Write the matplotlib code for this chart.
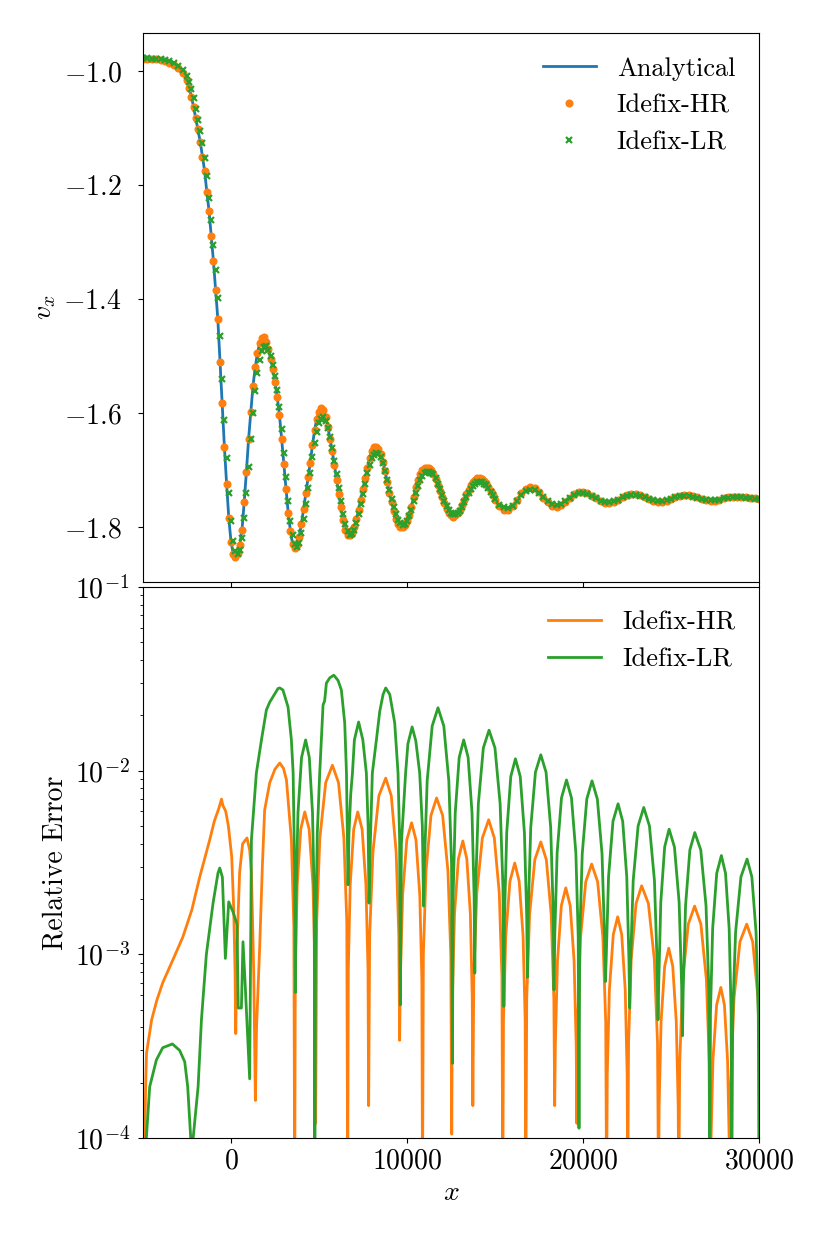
"""
Velocity profile vs analytical solution, and relative error of the two runs
"""

import matplotlib

matplotlib.use("Agg")

import matplotlib.pyplot as plt
import numpy as np

plt.rcParams.update(
    {
        "font.family": "serif",
        "font.serif": ["cmr10"],
        "mathtext.fontset": "cm",
        "axes.formatter.use_mathtext": True,
        "font.size": 20,
    }
)

# ---- top panel: v_x on a shared grid (finer where the profile oscillates strongly) ----
x_top = np.concatenate(
    [np.arange(-5000, -2500, 250), np.arange(-2500, 15000, 125), np.arange(15000, 30001, 250)]
)

v_analytical = [
    # -5000 .. -2750
    -0.978, -0.978, -0.979, -0.979, -0.980, -0.982, -0.985, -0.989, -0.995, -1.004,
    # -2500 .. 875
    -1.015, -1.029, -1.045, -1.063, -1.083, -1.102, -1.124, -1.150, -1.175, -1.212,
    -1.245, -1.290, -1.333, -1.385, -1.435, -1.510, -1.583, -1.660, -1.725, -1.785,
    -1.826, -1.847, -1.853, -1.846, -1.832, -1.805, -1.756, -1.703,
    # 1000 .. 14875
    -1.645, -1.598, -1.552, -1.520, -1.495, -1.478, -1.468, -1.467, -1.475, -1.488, -1.505, -1.523,
    -1.545, -1.572, -1.603, -1.645, -1.690, -1.733, -1.775, -1.807, -1.830, -1.837, -1.832, -1.818,
    -1.795, -1.768, -1.740, -1.713, -1.688, -1.657, -1.630, -1.610, -1.598, -1.592, -1.595, -1.607,
    -1.625, -1.645, -1.667, -1.692, -1.718, -1.742, -1.766, -1.788, -1.805, -1.814, -1.815, -1.811,
    -1.800, -1.787, -1.770, -1.752, -1.733, -1.714, -1.696, -1.680, -1.667, -1.659, -1.660, -1.663,
    -1.672, -1.686, -1.702, -1.721, -1.740, -1.757, -1.772, -1.786, -1.795, -1.800, -1.800, -1.797,
    -1.790, -1.779, -1.765, -1.748, -1.730, -1.718, -1.708, -1.701, -1.697, -1.696, -1.697, -1.701,
    -1.707, -1.716, -1.726, -1.737, -1.748, -1.759, -1.768, -1.776, -1.780, -1.782, -1.780, -1.776,
    -1.770, -1.762, -1.752, -1.743, -1.735, -1.727, -1.721, -1.717, -1.715, -1.715, -1.716, -1.719,
    -1.723, -1.730, -1.737, -1.744,
    # 15000 .. 30000
    -1.752, -1.764, -1.770, -1.770, -1.764, -1.753, -1.741, -1.733, -1.730, -1.732, -1.739, -1.749,
    -1.757, -1.763, -1.765, -1.762, -1.756, -1.749, -1.742, -1.738, -1.738, -1.740, -1.745, -1.750,
    -1.755, -1.758, -1.758, -1.757, -1.753, -1.748, -1.744, -1.742, -1.742, -1.744, -1.747, -1.751,
    -1.754, -1.756, -1.756, -1.754, -1.751, -1.748, -1.745, -1.744, -1.744, -1.745, -1.748, -1.751,
    -1.753, -1.754, -1.754, -1.752, -1.750, -1.748, -1.747, -1.747, -1.747, -1.748, -1.749, -1.750,
    -1.751,
]

# HR points lie on the analytical curve at this scale
v_hr = list(v_analytical)

v_lr = [
    # -5000 .. -2750
    -0.977, -0.977, -0.978, -0.978, -0.979, -0.980, -0.982, -0.986, -0.991, -0.998,
    # -2500 .. 875
    -1.008, -1.019, -1.032, -1.048, -1.066, -1.085, -1.105, -1.127, -1.152, -1.185,
    -1.222, -1.262, -1.305, -1.350, -1.398, -1.465, -1.540, -1.612, -1.680, -1.740,
    -1.790, -1.825, -1.843, -1.848, -1.840, -1.820, -1.785, -1.740,
    # 1000 .. 14875
    -1.695, -1.645, -1.600, -1.562, -1.530, -1.508, -1.492, -1.485, -1.483, -1.489, -1.500, -1.516,
    -1.535, -1.560, -1.590, -1.628, -1.670, -1.713, -1.755, -1.790, -1.815, -1.830, -1.835, -1.828,
    -1.810, -1.786, -1.760, -1.732, -1.705, -1.678, -1.653, -1.633, -1.618, -1.610, -1.608, -1.614,
    -1.627, -1.643, -1.662, -1.684, -1.708, -1.732, -1.755, -1.777, -1.795, -1.808, -1.814, -1.813,
    -1.805, -1.793, -1.778, -1.760, -1.742, -1.724, -1.706, -1.691, -1.680, -1.673, -1.670, -1.672,
    -1.678, -1.688, -1.702, -1.718, -1.735, -1.751, -1.766, -1.778, -1.788, -1.794, -1.796, -1.795,
    -1.790, -1.781, -1.770, -1.755, -1.740, -1.728, -1.717, -1.710, -1.705, -1.703, -1.703, -1.705,
    -1.708, -1.715, -1.724, -1.734, -1.744, -1.754, -1.763, -1.770, -1.775, -1.778, -1.778, -1.776,
    -1.772, -1.765, -1.757, -1.748, -1.740, -1.734, -1.728, -1.724, -1.722, -1.721, -1.722, -1.724,
    -1.727, -1.732, -1.738, -1.744,
    # 15000 .. 30000
    -1.751, -1.761, -1.766, -1.767, -1.763, -1.754, -1.744, -1.737, -1.735, -1.736, -1.741, -1.748,
    -1.755, -1.760, -1.762, -1.760, -1.755, -1.749, -1.744, -1.741, -1.741, -1.742, -1.746, -1.750,
    -1.754, -1.756, -1.756, -1.755, -1.752, -1.748, -1.745, -1.744, -1.744, -1.745, -1.748, -1.751,
    -1.753, -1.754, -1.754, -1.753, -1.751, -1.748, -1.746, -1.746, -1.746, -1.747, -1.749, -1.751,
    -1.752, -1.753, -1.753, -1.752, -1.750, -1.749, -1.748, -1.748, -1.748, -1.749, -1.750, -1.751,
    -1.751,
]

# ---- bottom panel: relative error (x, value) ----
err_hr_pts = [
    (-4960, 5e-5), (-4900, 1.0e-4), (-4850, 1.9e-4), (-4800, 2.9e-4), (-4510, 4.4e-4),
    (-4220, 5.6e-4), (-3880, 7.0e-4), (-3310, 9.3e-4), (-2740, 1.24e-3), (-2230, 1.74e-3),
    (-1780, 2.63e-3), (-1210, 4.2e-3), (-950, 5.3e-3), (-700, 6.2e-3), (-540, 7.0e-3),
    (-470, 6.5e-3), (-300, 6.0e-3), (-150, 5.0e-3), (40, 3.4e-3), (150, 1.8e-3),
    (230, 8e-4), (270, 3.7e-4),
    (330, 1.0e-3), (400, 1.6e-3), (490, 2.8e-3), (660, 4.0e-3), (910, 4.3e-3),
    (1060, 3.7e-3), (1160, 2.8e-3), (1290, 8e-4), (1385, 1.6e-4),
    (1450, 4e-4), (1630, 1.1e-3), (1780, 3.0e-3), (1910, 6.1e-3), (2200, 8.6e-3),
    (2500, 1.02e-2), (2770, 1.1e-2), (2980, 1.03e-2), (3150, 8.9e-3), (3430, 4.2e-3),
    (3570, 1.4e-3), (3620, 5e-5),
    (3654, 8.3e-4), (3762, 2.4e-3), (3962, 4.8e-3), (4190, 5.96e-3), (4438, 4.8e-3),
    (4655, 2.4e-3), (4773, 8.3e-4), (4810, 1.2e-4),
    (4867, 1.5e-3), (5048, 4.3e-3), (5380, 8.6e-3), (5760, 1.07e-2), (6108, 8.6e-3),
    (6413, 4.3e-3), (6578, 1.5e-3), (6630, 5e-5),
    (6664, 8.3e-4), (6773, 2.4e-3), (6972, 4.8e-3), (7200, 5.96e-3), (7448, 4.8e-3),
    (7665, 2.4e-3), (7783, 8.3e-4), (7820, 1.5e-4),
    (7878, 1.27e-3), (8063, 3.6e-3), (8402, 7.3e-3), (8790, 9.1e-3), (9106, 7.3e-3),
    (9383, 3.6e-3), (9533, 1.27e-3), (9580, 3.4e-4),
    (9621, 7.3e-4), (9750, 2.1e-3), (9988, 4.2e-3), (10260, 5.2e-3), (10508, 4.2e-3),
    (10725, 2.1e-3), (10843, 7.3e-4), (10880, 5e-5),
    (10928, 9.9e-4), (11080, 2.84e-3), (11360, 5.7e-3), (11680, 7.1e-3), (12024, 5.7e-3),
    (12325, 2.84e-3), (12488, 9.9e-4), (12540, 1.05e-4),
    (12578, 5.8e-4), (12698, 1.66e-3), (12918, 3.3e-3), (13170, 4.14e-3), (13398, 3.3e-3),
    (13598, 1.66e-3), (13706, 5.8e-4), (13740, 1.5e-4),
    (13794, 7.6e-4), (13965, 2.16e-3), (14280, 4.3e-3), (14640, 5.4e-3), (14960, 4.3e-3),
    (15240, 2.16e-3), (15392, 7.6e-4), (15440, 5e-5),
    (15481, 4.4e-4), (15610, 1.26e-3), (15848, 2.5e-3), (16120, 3.14e-3), (16372, 2.5e-3),
    (16593, 1.26e-3), (16712, 4.4e-4), (16750, 5e-5),
    (16801, 5.7e-4), (16963, 1.64e-3), (17260, 3.27e-3), (17600, 4.09e-3), (17916, 3.27e-3),
    (18193, 1.64e-3), (18343, 5.7e-4), (18390, 1.5e-4),
    (18428, 3.2e-4), (18548, 9.2e-4), (18768, 1.84e-3), (19020, 2.3e-3), (19272, 1.84e-3),
    (19493, 9.2e-4), (19612, 3.2e-4), (19650, 1.2e-4),
    (19700, 4.3e-4), (19860, 1.24e-3), (20154, 2.48e-3), (20490, 3.1e-3), (20830, 2.48e-3),
    (21128, 1.24e-3), (21289, 4.3e-4), (21340, 5e-5),
    (21378, 2.24e-4), (21498, 6.4e-4), (21718, 1.28e-3), (21970, 1.6e-3), (22198, 1.28e-3),
    (22398, 6.4e-4), (22506, 2.24e-4), (22540, 5e-5),
    (22587, 3.3e-4), (22738, 9.4e-4), (23014, 1.89e-3), (23330, 2.36e-3), (23714, 1.89e-3),
    (24050, 9.4e-4), (24232, 3.3e-4), (24290, 5e-5),
    (24325, 1.5e-4), (24435, 4.3e-4), (24638, 8.6e-4), (24870, 1.08e-3), (25098, 8.6e-4),
    (25298, 4.3e-4), (25406, 1.5e-4), (25440, 5e-5),
    (25494, 2.56e-4), (25665, 7.3e-4), (25980, 1.46e-3), (26340, 1.83e-3), (26696, 1.46e-3),
    (27008, 7.3e-4), (27177, 2.56e-4), (27230, 5e-5),
    (27266, 9.2e-5), (27380, 2.64e-4), (27590, 5.3e-4), (27830, 6.6e-4), (28034, 5.3e-4),
    (28212, 2.64e-4), (28309, 9.2e-5), (28340, 5e-5),
    (28398, 2e-4), (28580, 5.8e-4), (28916, 1.17e-3), (29300, 1.46e-3), (29640, 1.17e-3),
    (29938, 5.8e-4), (30099, 2e-4), (30150, 5e-5),
]

err_lr_pts = [
    (-4870, 5e-5), (-4810, 1.0e-4), (-4620, 1.9e-4), (-4240, 2.66e-4), (-3880, 3.1e-4),
    (-3330, 3.25e-4), (-2920, 3.0e-4), (-2630, 2.6e-4), (-2460, 1.9e-4), (-2290, 1.0e-4),
    (-2220, 3e-5), (-2150, 1.0e-4), (-1870, 1.9e-4), (-1680, 4.4e-4), (-1400, 1.0e-3),
    (-1020, 1.9e-3), (-740, 2.77e-3), (-640, 2.95e-3), (-490, 2.63e-3), (-320, 9.5e-4),
    (-130, 1.93e-3), (115, 1.7e-3), (300, 1.5e-3), (340, 1.45e-3), (410, 5.1e-4),
    (590, 5.1e-4), (680, 1.17e-3), (800, 7e-4), (1060, 2.1e-4),
    (1160, 4.2e-3), (1440, 9.7e-3), (1730, 1.47e-2), (2010, 2.14e-2), (2200, 2.36e-2),
    (2670, 2.8e-2), (2770, 2.82e-2), (2950, 2.75e-2), (3240, 2.22e-2), (3430, 1.47e-2),
    (3530, 9.7e-3), (3610, 3e-3), (3660, 6.2e-4),
    (3695, 2.06e-3), (3805, 5.9e-3), (4008, 1.18e-2), (4240, 1.47e-2), (4448, 1.18e-2),
    (4630, 5.9e-3), (4729, 2.06e-3), (4760, 5e-5),
    (4800, 1e-3), (4900, 4.5e-3), (5040, 9.7e-3), (5130, 1.47e-2), (5230, 2.28e-2),
    (5320, 2.4e-2), (5420, 3.0e-2), (5610, 3.2e-2), (5840, 3.31e-2), (6080, 3.1e-2),
    (6270, 2.75e-2), (6460, 1.82e-2), (6560, 9.7e-3), (6650, 2.39e-3),
    (6700, 4.5e-3), (6800, 7.4e-3), (6900, 9.7e-3), (7010, 1.47e-2), (7250, 1.84e-2),
    (7490, 1.47e-2), (7690, 9.7e-3), (7790, 5e-3), (7840, 1.9e-3),
    (7920, 4.2e-3), (8030, 9.7e-3), (8260, 1.47e-2), (8450, 2.1e-2), (8640, 2.6e-2),
    (8790, 2.82e-2), (9020, 2.6e-2), (9300, 1.82e-2), (9490, 9.7e-3), (9580, 4.2e-3),
    (9620, 5.3e-4),
    (9680, 4e-3), (9920, 9.7e-3), (10050, 1.4e-2), (10290, 1.73e-2), (10500, 1.45e-2),
    (10720, 9.7e-3), (10870, 5e-3), (10940, 1.83e-3),
    (10990, 3.1e-3), (11145, 8.8e-3), (11430, 1.75e-2), (11760, 2.2e-2), (12090, 1.75e-2),
    (12375, 8.8e-3), (12530, 3.1e-3), (12580, 2.55e-4),
    (12618, 2.06e-3), (12740, 5.9e-3), (12964, 1.18e-2), (13220, 1.47e-2), (13472, 1.18e-2),
    (13693, 5.9e-3), (13812, 2.06e-3), (13850, 7.9e-4),
    (13899, 2.32e-3), (14053, 6.6e-3), (14336, 1.33e-2), (14660, 1.66e-2), (14996, 1.33e-2),
    (15290, 6.6e-3), (15450, 2.32e-3), (15500, 5.2e-4),
    (15540, 1.62e-3), (15665, 4.6e-3), (15896, 9.3e-3), (16160, 1.16e-2), (16432, 9.3e-3),
    (16670, 4.6e-3), (16799, 1.62e-3), (16840, 7.5e-4),
    (16886, 1.7e-3), (17030, 4.9e-3), (17296, 9.8e-3), (17600, 1.22e-2), (17900, 9.8e-3),
    (18163, 4.9e-3), (18305, 1.7e-3), (18350, 6.4e-4),
    (18393, 1.25e-3), (18528, 3.56e-3), (18776, 7.1e-3), (19060, 8.9e-3), (19344, 7.1e-3),
    (19593, 3.56e-3), (19727, 1.25e-3), (19770, 1.13e-4),
    (19814, 1.23e-3), (19955, 3.52e-3), (20214, 7.0e-3), (20510, 8.8e-3), (20814, 7.0e-3),
    (21080, 3.52e-3), (21224, 1.23e-3), (21270, 7.1e-4),
    (21313, 9.2e-4), (21450, 2.64e-3), (21702, 5.3e-3), (21990, 6.6e-3), (22254, 5.3e-3),
    (22485, 2.64e-3), (22610, 9.2e-4), (22650, 5.1e-4),
    (22698, 8.8e-4), (22850, 2.52e-3), (23130, 5.0e-3), (23450, 6.3e-3), (23774, 5.0e-3),
    (24058, 2.52e-3), (24211, 8.8e-4), (24260, 4.4e-4),
    (24298, 6.7e-4), (24418, 1.92e-3), (24638, 3.84e-3), (24890, 4.8e-3), (25194, 3.84e-3),
    (25460, 1.92e-3), (25604, 6.7e-4), (25650, 3.6e-4),
    (25692, 6.4e-4), (25825, 1.84e-3), (26070, 3.7e-3), (26350, 4.6e-3), (26690, 3.7e-3),
    (26988, 1.84e-3), (27149, 6.4e-4), (27200, 5e-5),
    (27240, 4.8e-4), (27365, 1.38e-3), (27596, 2.76e-3), (27860, 3.45e-3), (28096, 2.76e-3),
    (28303, 1.38e-3), (28415, 4.8e-4), (28450, 5e-5),
    (28502, 4.6e-4), (28668, 1.32e-3), (28972, 2.64e-3), (29320, 3.3e-3), (29592, 2.64e-3),
    (29830, 1.32e-3), (29959, 4.6e-4), (30000, 5e-5),
]

err_hr_x, err_hr = zip(*err_hr_pts)
err_lr_x, err_lr = zip(*err_lr_pts)

fig = plt.figure(figsize=(8.3, 12.46), dpi=100)
ax1 = fig.add_axes([0.1723, 0.5329, 0.7422, 0.4406])
ax2 = fig.add_axes([0.1723, 0.0867, 0.7422, 0.4422], sharex=ax1)

# top: solution
ax1.plot(x_top, v_analytical, color="C0", linewidth=2, label="Analytical")
ax1.plot(x_top, v_hr, "o", color="C1", markersize=4.8, label="Idefix-HR")
ax1.plot(x_top, v_lr, "x", color="C2", markersize=5, markeredgewidth=1.6, label="Idefix-LR")
ax1.set_ylabel("$v_x$")
ax1.set_yticks([-1.8, -1.6, -1.4, -1.2, -1.0])
ax1.tick_params(axis="y", pad=12)
ax1.tick_params(labelbottom=False)
ax1.legend(loc="upper right", frameon=False, fontsize=19)

# bottom: relative error
ax2.semilogy(err_hr_x, err_hr, color="C1", linewidth=2, label="Idefix-HR")
ax2.semilogy(err_lr_x, err_lr, color="C2", linewidth=2, label="Idefix-LR")
ax2.set_ylim(1e-4, 1e-1)
ax2.set_xlim(-5000, 30000)
ax2.set_xticks([0, 10000, 20000, 30000])
ax2.tick_params(axis="y", which="major", pad=6)
ax2.set_xlabel("$x$")
ax2.set_ylabel("Relative Error")
ax2.legend(loc="upper right", frameon=False, fontsize=19)

fig.align_ylabels([ax1, ax2])

plt.savefig("out.png", dpi=100, facecolor="white")
plt.close(fig)
